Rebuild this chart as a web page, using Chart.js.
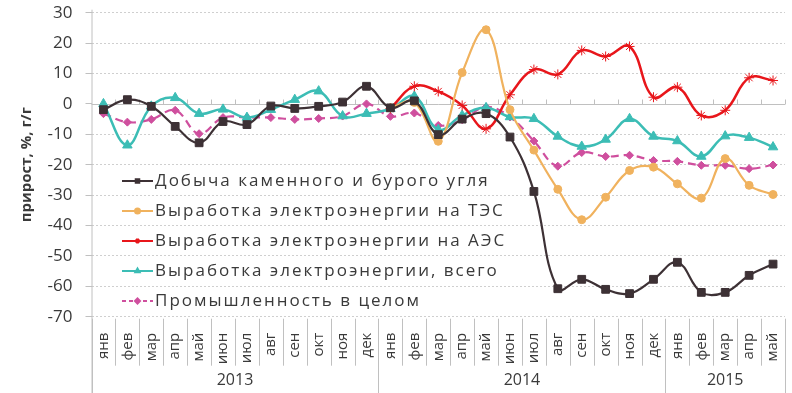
<!DOCTYPE html>
<html><head><meta charset="utf-8">
<script src="https://cdn.jsdelivr.net/npm/chart.js@4.4.0/dist/chart.umd.min.js"></script>
<style>html,body{margin:0;padding:0;background:#fff}#wrap{width:792px;height:393px}</style>
</head><body><div id="wrap"><canvas id="c" width="792" height="393"></canvas></div>
<script>
// ---- data ----
const months = ['янв','фев','мар','апр','май','июн','июл','авг','сен','окт','ноя','дек',
                'янв','фев','мар','апр','май','июн','июл','авг','сен','окт','ноя','дек',
                'янв','фев','мар','апр','май'];
const years = ['2013','2014','2015'];
const monthsPerYear = [12, 12, 5];
const seriesNames = ['Добыча каменного и бурого угля','Выработка электроэнергии на ТЭС',
  'Выработка электроэнергии на АЭС','Выработка электроэнергии, всего','Промышленность в целом'];
const coal = [-1.9, 1.4, -0.8, -7.4, -12.8, -5.8, -6.8, -0.7, -1.5, -0.8, 0.6, 5.8,
              -1.3, 1.0, -10.1, -5.0, -3.2, -10.9, -28.8, -60.8, -57.7, -61.0, -62.4, -57.7,
              -52.1, -62.0, -62.0, -56.4, -52.7];
const tes = [null, null, null, null, null, null, null, null, null, null, null, null,
             -1.3, 0.5, -12.3, 10.3, 24.4, -1.9, -15.2, -28.1, -38.1, -30.7, -21.9, -20.8,
             -26.3, -31.0, -18.0, -26.8, -29.8];
const aes = [null, null, null, null, null, null, null, null, null, null, null, null,
             -1.5, 5.8, 4.1, -0.5, -8.2, 3.0, 11.3, 9.7, 17.6, 15.6, 18.9, 2.2,
             5.5, -3.8, -2.1, 8.6, 7.7];
const total = [0.0, -13.6, -0.8, 2.0, -3.2, -1.8, -4.5, -1.9, 1.4, 4.2, -4.0, -3.2,
               -1.6, 2.5, -8.5, -3.8, -1.3, -4.3, -4.9, -10.7, -14.0, -11.7, -4.9, -10.7,
               -12.2, -17.3, -10.6, -11.1, -14.2];
const industry = [-3.2, -6.0, -5.1, -2.1, -9.8, -4.5, -4.5, -4.5, -5.1, -4.8, -4.0, 0.0,
                  -4.1, -3.0, -7.1, -5.2, -1.0, -4.3, -12.2, -20.5, -16.0, -17.3, -16.9, -18.6,
                  -18.9, -20.2, -20.2, -21.3, -20.1];
const yTitle = 'прирост, %, г/г';

// ---- styles ----
const colors = ['#3D3135', '#F0B25E', '#E8161B', '#3CBDB5', '#CF4F9E'];
const AXIS = '#c0c0c0';
const TEXT = '#3a3a3a';

function ds(i, data, style, radius, extra) {
  return Object.assign({
    label: seriesNames[i], data: data,
    borderColor: colors[i], backgroundColor: colors[i],
    pointBackgroundColor: colors[i], pointBorderColor: colors[i],
    pointStyle: style, pointRadius: radius, pointBorderWidth: 1,
    borderWidth: 2.2, tension: 0.4, spanGaps: false
  }, extra || {});
}

const decor = {
  id: 'decor',
  beforeDatasetsDraw(chart) {
    const {ctx, chartArea: a, scales: {x, y}} = chart;
    ctx.save();
    ctx.strokeStyle = AXIS; ctx.lineWidth = 1;
    ctx.beginPath(); ctx.moveTo(a.left + 0.5, a.top - 3); ctx.lineTo(a.left + 0.5, chart.height); ctx.stroke();
    const y0 = Math.round(y.getPixelForValue(0)) + 0.5;
    ctx.beginPath(); ctx.moveTo(a.left, y0); ctx.lineTo(a.right, y0); ctx.stroke();
    const n = months.length;
    const w = (a.right - a.left) / n;
    for (let k = 1; k <= n; k++) {
      const xx = Math.round(a.left + k * w) + 0.5;
      ctx.beginPath(); ctx.moveTo(xx, y0); ctx.lineTo(xx, y0 - 5); ctx.stroke();
    }
    let yearStarts = [0]; let acc = 0;
    monthsPerYear.forEach(m => { acc += m; yearStarts.push(acc); });
    for (let k = 0; k <= n; k++) {
      const xx = Math.round(a.left + k * w) + 0.5;
      const isYear = yearStarts.includes(k);
      ctx.beginPath(); ctx.moveTo(xx, a.bottom + 2); ctx.lineTo(xx, isYear ? chart.height : a.bottom + 49); ctx.stroke();
    }
    ctx.fillStyle = TEXT; ctx.font = '16px "Open Sans"'; ctx.textAlign = 'center'; ctx.textBaseline = 'middle';
    years.forEach((yr, i) => {
      const x0 = x.getPixelForValue(yearStarts[i]) - w / 2;
      const x1 = x.getPixelForValue(yearStarts[i + 1] - 1) + w / 2;
      ctx.fillText(yr, (x0 + x1) / 2, a.bottom + 64);
    });
    ctx.restore();
  },
  afterDatasetsDraw(chart) {
    const {ctx} = chart;
    ctx.save();
    const lx0 = 122, lx1 = 153, tx = 155, ty0 = 181, dy = 30;
    chart.data.datasets.forEach((d, i) => {
      const yy = ty0 + i * dy;
      ctx.strokeStyle = d.borderColor; ctx.lineWidth = 2;
      ctx.setLineDash(d.borderDash ? [4, 3] : []);
      ctx.beginPath(); ctx.moveTo(lx0, yy); ctx.lineTo(lx1, yy); ctx.stroke();
      ctx.setLineDash([]);
      ctx.fillStyle = d.pointBackgroundColor;
      Chart.helpers.drawPoint(ctx, {pointStyle: d.pointStyle, radius: 2.5, borderWidth: 1, rotation: 0}, (lx0 + lx1) / 2, yy);
      ctx.fillStyle = TEXT;
      ctx.font = '17px "Open Sans"';
      try { ctx.letterSpacing = '2px'; } catch (e) {}
      ctx.textAlign = 'left'; ctx.textBaseline = 'middle';
      ctx.fillText(d.label, tx, yy);
      try { ctx.letterSpacing = '0px'; } catch (e) {}
    });
    ctx.restore();
  }
};

new Chart(document.getElementById('c'), {
  type: 'line',
  data: {
    labels: months,
    datasets: [
      ds(0, coal, 'rect', 5.5),
      ds(1, tes, 'circle', 4),
      ds(2, aes, 'star', 5, {borderWidth: 2.5}),
      ds(3, total, 'triangle', 5.5, {borderWidth: 2.5}),
      ds(4, industry, 'rectRot', 4, {borderDash: [8, 5], borderWidth: 2.2})
    ]
  },
  options: {
    responsive: false, animation: false, devicePixelRatio: 1,
    layout: {padding: {top: 12.7, right: 7, left: 0, bottom: 0}},
    plugins: {legend: {display: false}, tooltip: {enabled: false}},
    scales: {
      x: {
        offset: true,
        grid: {display: false}, border: {display: false},
        ticks: {autoSkip: false, minRotation: 90, maxRotation: 90, padding: 8,
                color: TEXT, font: {family: 'Open Sans', size: 15}},
        afterFit(s) { s.height = 76.3; s.paddingLeft = 0; s.paddingRight = 0; }
      },
      y: {
        min: -70, max: 30,
        border: {display: false, dash: [2, 2]},
        grid: {color: c => (c.tick && c.tick.value === 0) ? 'rgba(0,0,0,0)' : '#cfcfcf',
               tickColor: AXIS, tickLength: 6},
        ticks: {stepSize: 10, padding: 13, color: TEXT, font: {family: 'Open Sans', size: 17}},
        title: {display: true, text: yTitle, color: TEXT, padding: {top: 18, bottom: 0},
                font: {family: 'Open Sans', size: 15, weight: 'bold'}},
        afterFit(s) { s.width = 91.5; s.paddingTop = 0; s.paddingBottom = 0; }
      }
    }
  },
  plugins: [decor]
});
</script></body></html>
